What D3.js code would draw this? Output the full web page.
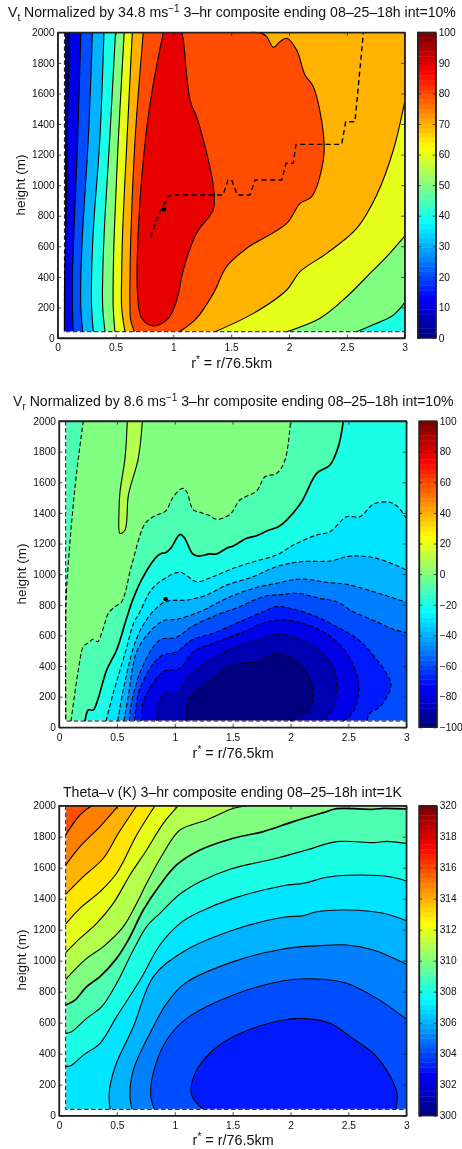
<!DOCTYPE html>
<html>
  <head>
    <meta charset="utf-8">
    <title>Composite cross sections</title>
    <script src="https://cdn.jsdelivr.net/npm/d3@7"></script>
    <style>
      html, body { margin: 0; padding: 0; background: #fff; }
      svg { display: block; filter: blur(0.35px); }
      text { font-family: "Liberation Sans", Helvetica, Arial, sans-serif; fill: #111; }
      .tick text { font-size: 10.2px; }
      .tick line { stroke: #222; stroke-width: 0.8; }
      .domain { stroke: #222; stroke-width: 1.3; }
    </style>
  </head>
  <body>
    <div id="chart"></div>
    <script type="text/javascript">
      // domain of the gridded field
      var rMin = 0.058, rMax = 3, zMin = 41, zMax = 2000;
      var TL = [rMin, zMax], TR = [rMax, zMax], BR = [rMax, zMin], BL = [rMin, zMin];

      var rTicks = [0, 0.5, 1, 1.5, 2, 2.5, 3];
      var zTicks = [0, 200, 400, 600, 800, 1000, 1200, 1400, 1600, 1800, 2000];
      var vtBarTicks = [0, 10, 20, 30, 40, 50, 60, 70, 80, 90, 100];
      var vrBarTicks = [-100, -80, -60, -40, -20, 0, 20, 40, 60, 80, 100];
      var thBarTicks = [300, 302, 304, 306, 308, 310, 312, 314, 316, 318, 320];

      // Vt contours [r*, height]
      var vt10 = [[0.10,2000],[0.083,1310],[0.07,706],[0.06,400],[0.058,41]];
      var vt20 = [[0.20,2000],[0.173,1310],[0.141,706],[0.127,400],[0.127,200],[0.135,41]];
      var vt30 = [[0.30,2000],[0.265,1310],[0.216,706],[0.20,400],[0.20,200],[0.216,41]];
      var vt40 = [[0.40,2000],[0.365,1310],[0.308,706],[0.293,400],[0.293,200],[0.308,41]];
      var vt50 = [[0.50,2000],[0.45,1310],[0.403,706],[0.389,400],[0.389,200],[0.409,41]];
      var vt60 = [[0.575,2000],[0.525,1310],[0.49,706],[0.48,400],[0.48,200],[0.495,41]];
      var vt70 = [[0.645,2000],[0.60,1310],[0.562,706],[0.553,400],[0.553,200],[0.582,41]];
      var vt80 = [[0.74,2000],[0.67,1310],[0.634,706],[0.625,400],[0.625,200],[0.63,120],[0.663,41]];
      var vt50b = [[2.585,41],[2.758,96],[2.902,150],[3,231]];
      var vt60b = [[1.98,41],[2.268,129],[2.499,270],[2.715,434],[2.844,532],[3,667]];
      var vt70b = [[1.36,41],[1.692,161],[1.98,314],[2.095,434],[2.326,554],[2.585,717],[2.758,936],[2.902,1230],[3,1546]];
      var vt80b = [[1.052,41],[1.2,129],[1.346,292],[1.46,467],[1.634,587],[1.98,750],[2.095,881],[2.196,925],[2.297,1165],[2.297,1339],[2.21,1644],[2.138,1721],[2.066,1884],[1.98,1961],[1.922,1939],[1.865,1902],[1.807,1972],[1.764,1993],[1.677,2000]];
      var vt90 = [[0.914,2000],[0.827,1666],[0.76,1310],[0.697,706],[0.69,292],[0.726,129],[0.827,79],[0.957,129],[1.03,249],[1.086,445],[1.2,685],[1.346,842],[1.346,990],[1.26,1295],[1.2,1448],[1.144,1557],[1.086,1950],[1.072,2000]];
      var vtRmax = [[0.804,659],[0.87,805],[0.957,925],[0.99,936],[1.43,936],[1.473,1034],[1.504,1034],[1.553,936],[1.663,936],[1.706,1034],[1.937,1034],[1.974,1143],[2.037,1143],[2.06,1267],[2.455,1267],[2.49,1415],[2.57,1415],[2.643,2000]];
      var vtDot = [0.919, 842];

      // Vr contours [r*, height]
      var vrLeft = [[0.21,2000],[0.14,1582],[0.066,907],[0.058,700],[0.058,41]];
      var vrOuter = [[0.104,41],[0.167,374],[0.21,526],[0.253,552],[0.296,575],[0.334,559],[0.368,614],[0.397,683],[0.426,744],[0.484,788],[0.541,820],[0.628,1060],[0.728,1310],[0.772,1353],[0.844,1386],[0.921,1412],[0.988,1506],[1.068,1560],[1.103,1538],[1.16,1419],[1.218,1404],[1.29,1386],[1.362,1358],[1.477,1390],[1.563,1484],[1.707,1543],[1.779,1636],[1.88,1658],[1.952,1745],[2.0,2000]];
      var vrPocket = [[0.59,2000],[0.57,1756],[0.527,1538],[0.518,1408],[0.527,1266],[0.57,1288],[0.6,1517],[0.685,1756],[0.72,2000]];
      var vrThick = [[0.225,41],[0.253,113],[0.296,113],[0.334,178],[0.412,374],[0.498,505],[0.579,700],[0.642,842],[0.728,984],[0.844,1114],[0.887,1136],[0.921,1140],[0.965,1169],[1.045,1260],[1.083,1238],[1.155,1132],[1.204,1118],[1.304,1132],[1.362,1132],[1.448,1169],[1.506,1184],[1.621,1234],[1.707,1251],[1.794,1282],[1.895,1310],[1.967,1353],[2.096,1473],[2.226,1658],[2.341,1713],[2.413,1832],[2.456,2000]];
      var vrM20 = [[0.406,41],[0.469,224],[0.579,505],[0.642,675],[0.70,755],[0.786,886],[0.872,951],[1.045,1012],[1.189,951],[1.333,984],[1.506,1038],[1.679,1081],[1.88,1125],[2.024,1190],[2.226,1256],[2.341,1277],[2.485,1375],[2.6,1375],[2.715,1456],[2.859,1469],[2.931,1436],[3,1364]];
      var vrM30 = [[0.507,41],[0.57,298],[0.671,581],[0.786,733],[0.921,820],[1.103,831],[1.276,864],[1.448,929],[1.679,984],[1.88,1049],[2.082,1081],[2.341,1086],[2.514,1118],[2.744,1103],[3,1027]];
      var vrM40 = [[0.561,41],[0.6,211],[0.671,494],[0.786,625],[0.901,696],[1.016,705],[1.218,755],[1.448,842],[1.679,907],[1.88,940],[2.082,968],[2.312,947],[2.485,933],[2.715,886],[3,816]];
      var vrM50 = [[0.608,41],[0.628,168],[0.728,407],[0.872,570],[1.016,588],[1.146,657],[1.362,733],[1.563,788],[1.765,853],[1.938,868],[2.053,875],[2.254,842],[2.398,820],[2.542,755],[2.744,690],[2.888,640],[3,618]];
      var vrM60 = [[0.651,41],[0.70,255],[0.872,461],[1.016,494],[1.146,570],[1.333,614],[1.563,690],[1.765,755],[1.88,788],[2.024,772],[2.226,722],[2.398,657],[2.571,581],[2.701,483],[2.859,309],[2.865,255],[2.773,135],[2.686,91],[2.658,41]];
      var vrM70 = [[0.714,41],[0.728,168],[0.901,363],[1.045,385],[1.16,494],[1.333,548],[1.563,614],[1.765,679],[1.895,701],[2.053,690],[2.254,635],[2.398,559],[2.514,450],[2.586,298],[2.586,211],[2.542,102],[2.456,41]];
      var vrM80 = [[0.844,41],[0.858,157],[0.916,222],[1.016,222],[1.132,342],[1.333,450],[1.563,537],[1.765,581],[1.895,607],[2.053,581],[2.226,516],[2.37,385],[2.398,255],[2.37,135],[2.283,41]];
      var vrM90 = [[1.097,41],[1.117,178],[1.218,255],[1.333,320],[1.506,407],[1.707,429],[1.895,483],[2.082,407],[2.168,309],[2.191,233],[2.168,124],[2.053,59],[1.995,41]];
      var vrDot = [0.921, 838];

      // Theta-v contours [r*, height]
      var th316 = [[0.058,1811],[0.181,1940],[0.282,2000]];
      var th315 = [[0.058,1617],[0.181,1736],[0.354,1865],[0.513,2000]];
      var th314 = [[0.058,1428],[0.21,1542],[0.383,1661],[0.513,1822],[0.671,2000]];
      var th313 = [[0.058,1237],[0.181,1338],[0.354,1445],[0.498,1564],[0.671,1811],[0.829,2000]];
      var th312 = [[0.058,1052],[0.167,1134],[0.325,1241],[0.469,1370],[0.613,1553],[0.757,1714],[0.901,1886],[1.031,2000]];
      var th311 = [[0.058,880],[0.239,1015],[0.383,1091],[0.556,1220],[0.671,1370],[0.757,1499],[0.901,1693],[1.045,1843],[1.276,1908],[1.506,1983],[1.621,2000]];
      var th310 = [[0.058,714],[0.138,746],[0.239,832],[0.354,897],[0.498,1015],[0.599,1134],[0.728,1327],[0.872,1489],[1.016,1618],[1.218,1714],[1.506,1790],[1.765,1833],[2.024,1897],[2.312,1962],[2.398,1981],[2.715,1977],[2.802,1983],[3,1979]];
      var th309 = [[0.058,531],[0.109,542],[0.239,628],[0.369,703],[0.498,854],[0.642,1069],[0.757,1220],[0.872,1306],[1.045,1430],[1.218,1510],[1.477,1590],[1.88,1661],[2.139,1714],[2.398,1768],[2.715,1762],[2.83,1770],[3,1757]];
      var th308 = [[0.058,320],[0.095,320],[0.21,391],[0.354,467],[0.498,639],[0.70,875],[0.872,1101],[1.045,1241],[1.218,1316],[1.506,1402],[1.938,1484],[2.11,1499],[2.312,1538],[2.485,1551],[2.859,1542],[3,1514]];
      var th307 = [[0.443,41],[0.432,133],[0.484,316],[0.642,574],[0.815,897],[1.074,1058],[1.506,1198],[1.938,1280],[2.11,1291],[2.226,1316],[2.485,1327],[2.802,1306],[3,1258]];
      var th306 = [[0.631,41],[0.613,133],[0.642,295],[0.815,574],[0.93,725],[1.088,854],[1.506,994],[1.938,1076],[2.254,1097],[2.485,1101],[2.715,1069],[3,977]];
      var th305 = [[0.823,41],[0.792,133],[0.821,295],[0.93,488],[1.103,628],[1.506,779],[1.938,871],[2.226,882],[2.485,854],[2.744,757],[3,624]];
      var th304 = [[1.247,41],[1.146,133],[1.175,273],[1.333,424],[1.563,531],[1.938,617],[2.082,628],[2.341,596],[2.514,510],[2.744,381],[2.917,155],[2.908,41]];

      var width = 462, height = 1149;
      var svg = d3.select('#chart').append('svg')
        .attr('width', width)
        .attr('height', height);

      var jet = d3.scaleLinear()
        .domain([0, 0.125, 0.375, 0.625, 0.875, 1])
        .range(['#000080', '#0000ff', '#00ffff', '#ffff00', '#ff0000', '#800000'])
        .clamp(true);

      function drawPanel(p) {
        var x = d3.scaleLinear().domain([0, 3]).range([p.left, p.right]);
        var y = d3.scaleLinear().domain([0, 2000]).range([p.bottom, p.top]);
        var c = d3.scaleLinear().domain(p.range).range([0, 1]);
        var straight = d3.line().x(function(d) { return x(d[0]); }).y(function(d) { return y(d[1]); });
        var line = d3.line().x(function(d) { return x(d[0]); }).y(function(d) { return y(d[1]); })
          .curve(d3.curveCatmullRom.alpha(0.5));
        var g = svg.append('g');

        // one closed outline from contour pieces and domain corners
        function outline(parts) {
          var d = parts.map(function(part, i) {
            var s = part.length > 1 ? line(part) : straight(part).replace(/Z$/, '');
            return i === 0 ? s : s.replace(/^M/, 'L');
          }).join('');
          return d + 'Z';
        }

        // filled bands, painted from outermost to innermost
        g.append('path')
          .attr('d', straight([TL, TR, BR, BL]) + 'Z')
          .attr('fill', jet(c(p.base)));
        p.bands.forEach(function(b) {
          g.append('path')
            .attr('d', outline(b[1]))
            .attr('fill', jet(c(b[0])));
        });

        // edge of the grid: white gaps between black dashes
        g.append('path')
          .attr('d', straight([TL, BL, BR]))
          .attr('fill', 'none')
          .attr('stroke', '#fff')
          .attr('stroke-width', 1);
        g.append('path')
          .attr('d', straight([TL, BL, BR]))
          .attr('fill', 'none')
          .attr('stroke', '#111')
          .attr('stroke-width', 1)
          .attr('stroke-dasharray', '4.5,2.5');

        // contour lines
        p.lines.forEach(function(l) {
          g.append('path')
            .attr('d', line(l.pts))
            .attr('fill', 'none')
            .attr('stroke', '#000')
            .attr('stroke-width', l.w || 1.1)
            .attr('stroke-dasharray', l.dash ? '4.5,2.5' : null);
        });

        if (p.rmax) {
          g.append('path')
            .attr('d', straight(p.rmax))
            .attr('fill', 'none')
            .attr('stroke', '#000')
            .attr('stroke-width', 1.4)
            .attr('stroke-dasharray', '5,3.5');
        }
        if (p.dot) {
          g.append('circle')
            .attr('cx', x(p.dot[0]))
            .attr('cy', y(p.dot[1]))
            .attr('r', 2.3)
            .attr('fill', '#000');
        }

        // axes with inward ticks on all four sides
        g.append('g').attr('transform', 'translate(0,' + p.bottom + ')')
          .call(d3.axisBottom(x).tickValues(rTicks).tickFormat(d3.format('')).tickSize(-3.5).tickSizeOuter(0).tickPadding(6));
        g.append('g').attr('transform', 'translate(0,' + p.top + ')')
          .call(d3.axisTop(x).tickValues(rTicks).tickFormat('').tickSize(-3.5).tickSizeOuter(0));
        g.append('g').attr('transform', 'translate(' + p.left + ',0)')
          .call(d3.axisLeft(y).tickValues(zTicks).tickFormat(d3.format('')).tickSize(-3.5).tickSizeOuter(0).tickPadding(3));
        g.append('g').attr('transform', 'translate(' + p.right + ',0)')
          .call(d3.axisRight(y).tickValues(zTicks).tickFormat('').tickSize(-3.5).tickSizeOuter(0));

        // colour bar
        var cy = d3.scaleLinear().domain(p.range).range([p.bottom, p.top]);
        var steps = d3.range(64);
        var stepH = (p.bottom - p.top) / 64;
        g.selectAll('.step').data(steps).enter().append('rect')
          .attr('class', 'step')
          .attr('x', p.barLeft)
          .attr('width', p.barRight - p.barLeft)
          .attr('y', function(i) { return p.bottom - (i + 1) * stepH; })
          .attr('height', stepH + 0.4)
          .attr('fill', function(i) { return jet(i / 63); });
        g.append('g').attr('transform', 'translate(' + p.barRight + ',0)')
          .call(d3.axisRight(cy).tickValues(p.barTicks).tickFormat(function(d) { return String(d).replace('-', '\u2212'); }).tickSize(-3).tickSizeOuter(0).tickPadding(3));
        g.append('g').attr('transform', 'translate(' + p.barLeft + ',0)')
          .call(d3.axisLeft(cy).tickValues(p.barTicks).tickFormat('').tickSize(-3).tickSizeOuter(0));
        g.append('path')
          .attr('d', 'M' + p.left + ',' + p.top + 'H' + p.right + 'V' + p.bottom + 'H' + p.left + 'Z')
          .attr('fill', 'none').attr('stroke', '#222').attr('stroke-width', 1.3);
        g.append('rect')
          .attr('x', p.barLeft).attr('y', p.top)
          .attr('width', p.barRight - p.barLeft).attr('height', p.bottom - p.top)
          .attr('fill', 'none').attr('stroke', '#222').attr('stroke-width', 1.3);

        // axis labels
        var xl = g.append('text')
          .attr('x', (p.left + p.right) / 2 + 0.5)
          .attr('y', p.xLabelY)
          .attr('text-anchor', 'middle')
          .style('font-size', '14.4px');
        xl.append('tspan').text('r');
        xl.append('tspan').attr('dy', -5).style('font-size', '10px').text('*');
        xl.append('tspan').attr('dy', 5).text(' = r/76.5km');

        g.append('text')
          .attr('transform', 'translate(' + p.yLabelX + ',' + p.yLabelY + ') rotate(-90)')
          .attr('text-anchor', 'middle')
          .style('font-size', '13.5px')
          .text('height (m)');

        // title
        var t = g.append('text')
          .attr('x', p.titleX)
          .attr('y', p.titleY)
          .style('font-size', p.titleSize + 'px');
        if (p.sub) {
          t.append('tspan').text('V');
          t.append('tspan').attr('dy', 4).style('font-size', '10px').text(p.sub);
          t.append('tspan').attr('dy', -4).text(' Normalized by ' + p.norm + ' ms');
          t.append('tspan').attr('dy', -5).style('font-size', '10px').text('\u22121');
          t.append('tspan').attr('dy', 5).text(' ' + p.title);
        } else {
          t.text(p.title);
        }
      }

      drawPanel({
        left: 57.7, right: 404.7, top: 32.3, bottom: 338,
        barLeft: 417.7, barRight: 435.7,
        range: [0, 100], barTicks: vtBarTicks,
        base: 0,
        bands: [
          [10, [vt10, [BR], [TR]]],
          [20, [vt20, [BR], [TR]]],
          [30, [vt30, [BR], [TR]]],
          [40, [vt40, [BR], [TR]]],
          [50, [vt50, vt50b, [TR]]],
          [60, [vt60, vt60b, [TR]]],
          [70, [vt70, vt70b, [TR]]],
          [80, [vt80, vt80b]],
          [90, [vt90]]
        ],
        lines: [vt10, vt20, vt30, vt40, vt50, vt60, vt70, vt80, vt50b, vt60b, vt70b, vt80b, vt90].map(function(d) { return { pts: d }; }),
        rmax: vtRmax, dot: vtDot,
        xLabelY: 368, yLabelX: 25, yLabelY: 185,
        sub: 't', norm: '34.8', title: '3\u2013hr composite ending 08\u201325\u201318h int=10%',
        titleX: 8, titleY: 17, titleSize: 14.1
      });

      drawPanel({
        left: 59, right: 406.3, top: 421, bottom: 727.3,
        barLeft: 419, barRight: 436.7,
        range: [-100, 100], barTicks: vrBarTicks,
        base: -10,
        bands: [
          [0, [vrLeft, vrOuter]],
          [10, [vrPocket]],
          [-20, [vrThick, [TR], [BR]]],
          [-30, [vrM20, [BR]]],
          [-40, [vrM30, [BR]]],
          [-50, [vrM40, [BR]]],
          [-60, [vrM50, [BR]]],
          [-70, [vrM60]],
          [-80, [vrM70]],
          [-90, [vrM80]],
          [-100, [vrM90]]
        ],
        lines: [
          { pts: vrLeft, dash: true }, { pts: vrOuter, dash: true }, { pts: vrPocket },
          { pts: vrThick, w: 1.7 }, { pts: vrM20, dash: true }, { pts: vrM30, dash: true },
          { pts: vrM40, dash: true }, { pts: vrM50, dash: true }, { pts: vrM60, dash: true },
          { pts: vrM70, dash: true }, { pts: vrM80, dash: true }, { pts: vrM90, dash: true }
        ],
        dot: vrDot,
        xLabelY: 757.7, yLabelX: 26, yLabelY: 574,
        sub: 'r', norm: '8.6', title: '3\u2013hr composite ending 08\u201325\u201318h int=10%',
        titleX: 13, titleY: 405.7, titleSize: 14.1
      });

      drawPanel({
        left: 59, right: 406.3, top: 805.7, bottom: 1115.7,
        barLeft: 419, barRight: 436.7,
        range: [300, 320], barTicks: thBarTicks,
        base: 316,
        bands: [
          [315, [th316, [TR], [BR], [BL]]],
          [314, [th315, [TR], [BR], [BL]]],
          [313, [th314, [TR], [BR], [BL]]],
          [312, [th313, [TR], [BR], [BL]]],
          [311, [th312, [TR], [BR], [BL]]],
          [310, [th311, [TR], [BR], [BL]]],
          [309, [th310, [BR], [BL]]],
          [308, [th309, [BR], [BL]]],
          [307, [th308, [BR], [BL]]],
          [306, [th307, [BR]]],
          [305, [th306, [BR]]],
          [304, [th305, [BR]]],
          [303, [th304]]
        ],
        lines: [
          { pts: th316 }, { pts: th315 }, { pts: th314 }, { pts: th313 }, { pts: th312 }, { pts: th311 },
          { pts: th310, w: 1.7 }, { pts: th309 }, { pts: th308 }, { pts: th307 }, { pts: th306 }, { pts: th305 }, { pts: th304 }
        ],
        xLabelY: 1145, yLabelX: 26, yLabelY: 960,
        title: 'Theta\u2013v (K) 3\u2013hr composite ending 08\u201325\u201318h int=1K',
        titleX: 63, titleY: 796.7, titleSize: 14.1
      });
    </script>
  </body>
</html>
